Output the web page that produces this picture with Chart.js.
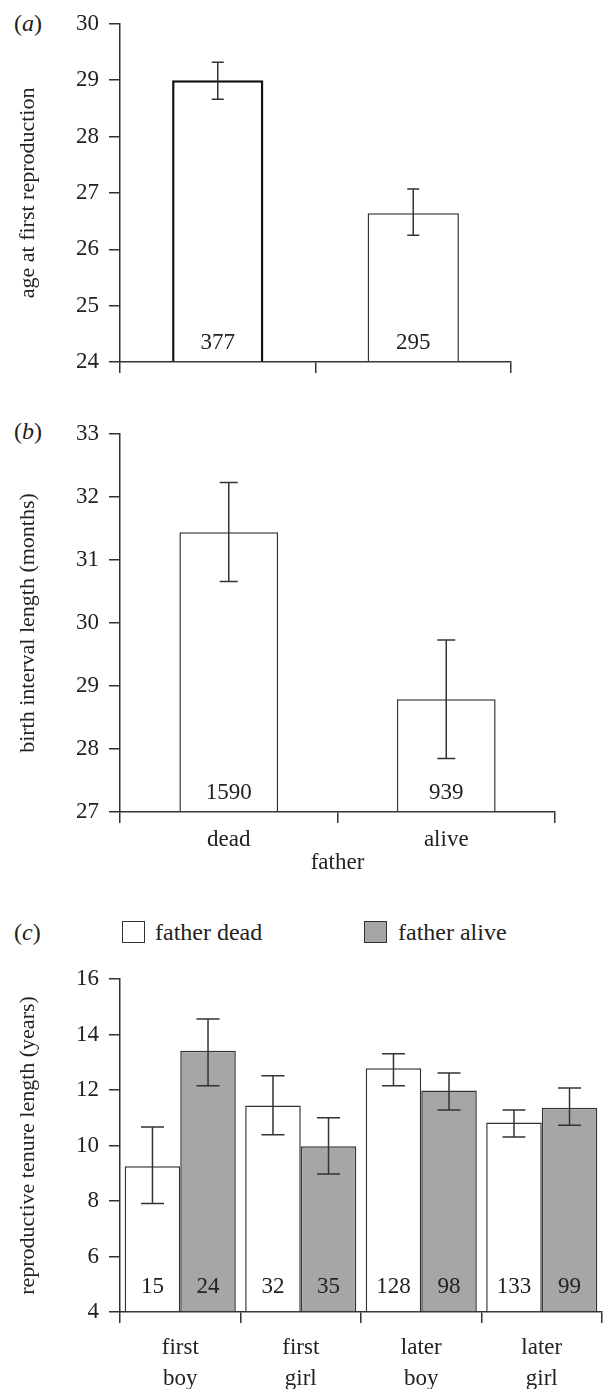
<!DOCTYPE html>
<html lang="en">
<head>
<meta charset="UTF-8">
<title>Father status and reproductive timing</title>
<script src="https://cdn.jsdelivr.net/npm/chart.js"></script>
<style>
    body {
        margin: 0;
        background: #fff;
        font-family: 'Liberation Serif', 'Times New Roman', serif;
        color: #222;
    }
    .page {
        position: relative;
        width: 603px;
        height: 1389px;
        overflow: hidden;
    }
    .page canvas, .tag, .key, .key-text {
        position: absolute;
    }
    .tag, .key-text {
        font-size: 24px;
        line-height: 24px;
        white-space: nowrap;
    }
    .tag { left: 14px; }
    .key {
        width: 23px;
        height: 22px;
        box-sizing: border-box;
        border: 1.5px solid #333;
    }
</style>
</head>
<body>
<div class="page">
    <div class="tag" style="top:11px">(<i>a</i>)</div>
    <canvas id="chartA" width="603" height="402" style="left:0;top:0"></canvas>

    <div class="tag" style="top:419px">(<i>b</i>)</div>
    <canvas id="chartB" width="603" height="477" style="left:0;top:400px"></canvas>

    <div class="tag" style="top:920px">(<i>c</i>)</div>
    <div class="key" style="left:122px;top:921px;background:#fff"></div>
    <div class="key-text" style="left:155px;top:920px">father dead</div>
    <div class="key" style="left:364px;top:921px;background:#a6a6a8"></div>
    <div class="key-text" style="left:398px;top:920px">father alive</div>
    <canvas id="chartC" width="603" height="439" style="left:0;top:950px"></canvas>
</div>

<script>
    // (a) age at first reproduction
    const fatherStatus = ['dead', 'alive'];
    const ageFirstRepro = [29.0, 26.64];
    const ageLow = [28.66, 26.25];
    const ageHigh = [29.32, 27.07];
    const ageN = [377, 295];

    // (b) birth interval length
    const birthInterval = [31.44, 28.79];
    const birthLow = [30.66, 27.85];
    const birthHigh = [32.23, 29.73];
    const birthN = [1590, 939];

    // (c) reproductive tenure length
    const birthOrder = [['first', 'boy'], ['first', 'girl'], ['later', 'boy'], ['later', 'girl']];
    const tenureDead = [9.25, 11.44, 12.78, 10.83];
    const tenureDeadLow = [7.91, 10.39, 12.15, 10.31];
    const tenureDeadHigh = [10.67, 12.51, 13.31, 11.28];
    const tenureAlive = [13.41, 9.97, 11.98, 11.36];
    const tenureAliveLow = [12.15, 8.97, 11.28, 10.73];
    const tenureAliveHigh = [14.56, 11.0, 12.61, 12.07];
    const nDead = [15, 32, 128, 133];
    const nAlive = [24, 35, 98, 99];

    const FONT = 'Liberation Serif';
    const INK = '#222';
    const LINE = '#333';
    const GREY = '#a6a6a8';

    Chart.defaults.font.family = FONT;
    Chart.defaults.color = INK;

    // error bars + sample sizes drawn on top of the bars
    function barExtras(capWidth, countGap) {
        return {
            id: 'barExtras',
            afterDatasetsDraw(chart) {
                const ctx = chart.ctx;
                const y = chart.scales.y;
                chart.data.datasets.forEach((ds, i) => {
                    chart.getDatasetMeta(i).data.forEach((bar, j) => {
                        const yLo = y.getPixelForValue(ds.errLow[j]);
                        const yHi = y.getPixelForValue(ds.errHigh[j]);
                        ctx.save();
                        ctx.strokeStyle = LINE;
                        ctx.lineWidth = 1.5;
                        ctx.beginPath();
                        ctx.moveTo(bar.x, yLo);
                        ctx.lineTo(bar.x, yHi);
                        ctx.moveTo(bar.x - capWidth / 2, yLo);
                        ctx.lineTo(bar.x + capWidth / 2, yLo);
                        ctx.moveTo(bar.x - capWidth / 2, yHi);
                        ctx.lineTo(bar.x + capWidth / 2, yHi);
                        ctx.stroke();
                        ctx.fillStyle = INK;
                        ctx.font = '23px "' + FONT + '"';
                        ctx.textAlign = 'center';
                        ctx.textBaseline = 'middle';
                        ctx.fillText(String(ds.counts[j]), bar.x, y.bottom - countGap);
                        ctx.restore();
                    });
                });
            }
        };
    }

    function yAxis(min, max, step, title) {
        return {
            min: min,
            max: max,
            ticks: { stepSize: step, padding: 10, color: INK, font: { size: 23 } },
            grid: { drawOnChartArea: false, tickLength: 11, color: LINE, lineWidth: 1.5 },
            border: { color: LINE, width: 1.5 },
            title: {
                display: true, text: title, color: INK,
                font: { size: 22 }, padding: { top: 15, bottom: 0 }
            },
            afterFit: s => { s.width = 120; }
        };
    }

    function xAxis(showLabels, title, height, pad) {
        return {
            offset: true,
            grid: { drawOnChartArea: false, offset: true, tickLength: 11, color: LINE, lineWidth: 1.5 },
            border: { color: LINE, width: 1.5 },
            ticks: { display: showLabels, padding: pad, color: INK, font: { size: 23, lineHeight: 1.35 } },
            title: {
                display: !!title, text: title || '', color: INK,
                font: { size: 23 }, padding: { top: 0, bottom: 0 }
            },
            afterFit: s => { s.height = height; }
        };
    }

    function baseOptions(padding, x, y) {
        return {
            responsive: false,
            animation: false,
            layout: { padding: padding },
            plugins: { legend: { display: false }, tooltip: { enabled: false } },
            scales: { x: x, y: y }
        };
    }

    new Chart(document.getElementById('chartA'), {
        type: 'bar',
        data: {
            labels: fatherStatus,
            datasets: [{
                data: ageFirstRepro,
                errLow: ageLow, errHigh: ageHigh, counts: ageN,
                base: 24,
                backgroundColor: '#fff',
                borderColor: ['#111', LINE],
                borderWidth: [2.5, 1.5],
                categoryPercentage: 0.467,
                barPercentage: 1
            }]
        },
        options: baseOptions({ top: 18, right: 92, left: 0, bottom: 0 },
            xAxis(false, null, 40, 3),
            yAxis(24, 30, 1, 'age at first reproduction')),
        plugins: [barExtras(12, 19)]
    });

    new Chart(document.getElementById('chartB'), {
        type: 'bar',
        data: {
            labels: fatherStatus,
            datasets: [{
                data: birthInterval,
                errLow: birthLow, errHigh: birthHigh, counts: birthN,
                base: 27,
                backgroundColor: '#fff',
                borderColor: LINE,
                borderWidth: 1.5,
                categoryPercentage: 0.454,
                barPercentage: 1
            }]
        },
        options: baseOptions({ top: 34, right: 48, left: 0, bottom: 0 },
            xAxis(true, 'father', 65, 1),
            yAxis(27, 33, 1, 'birth interval length (months)')),
        plugins: [barExtras(18, 19)]
    });

    new Chart(document.getElementById('chartC'), {
        type: 'bar',
        data: {
            labels: birthOrder,
            datasets: [{
                label: 'father dead',
                data: tenureDead,
                errLow: tenureDeadLow, errHigh: tenureDeadHigh, counts: nDead,
                base: 4,
                backgroundColor: '#fff',
                borderColor: LINE,
                borderWidth: 1.5,
                categoryPercentage: 0.922,
                barPercentage: 1
            }, {
                label: 'father alive',
                data: tenureAlive,
                errLow: tenureAliveLow, errHigh: tenureAliveHigh, counts: nAlive,
                base: 4,
                backgroundColor: GREY,
                borderColor: LINE,
                borderWidth: 1.5,
                categoryPercentage: 0.922,
                barPercentage: 1
            }]
        },
        options: baseOptions({ top: 29, right: 1, left: 0, bottom: 0 },
            xAxis(true, null, 77, 9),
            yAxis(4, 16, 2, 'reproductive tenure length (years)')),
        plugins: [barExtras(23, 25)]
    });
</script>
</body>
</html>
